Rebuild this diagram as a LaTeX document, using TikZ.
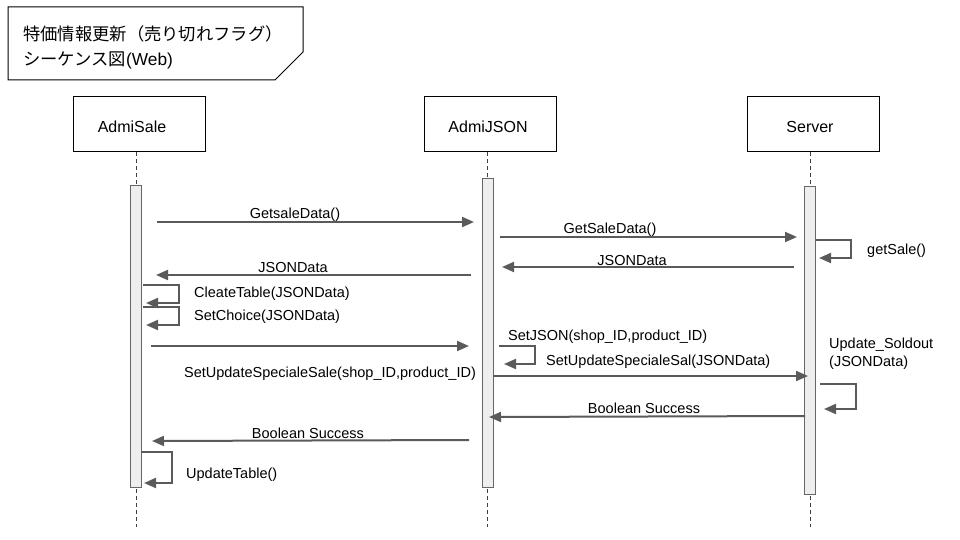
\documentclass[tikz,border=0pt]{standalone}
\usepackage{fontspec}
\setmainfont{Liberation Sans}
\newfontfamily\cjk{Noto Sans CJK JP}
\usetikzlibrary{arrows.meta,positioning}
\definecolor{msgcol}{RGB}{90,90,90}
\definecolor{barfill}{RGB}{238,238,238}

\begin{document}
\begin{tikzpicture}[
            x=1pt, y=-1pt,
            every node/.style={inner sep=0pt},
            head/.style={draw, line width=1pt, minimum width=132pt, minimum height=55pt},
            hlbl/.style={anchor=base, font=\fontsize{16}{19}\selectfont},
            life/.style={draw=black!75, line width=0.8pt, dash pattern=on 4pt off 3pt},
            bar/.style={draw=black!60, fill=barfill, line width=1pt, minimum width=11pt},
            msg/.style={draw=msgcol, line width=2pt, -{Triangle[length=12pt,width=10pt]}},
            lbl/.style={anchor=base, font=\fontsize{14.5}{17}\selectfont},
            lblw/.style={anchor=base west, font=\fontsize{14.5}{17}\selectfont}
        ]
            \useasboundingbox (0,0) rectangle (960,540);

            % タイトル
            \draw[line width=1pt] (8,7) -- (303,7) -- (303,52) -- (275,80) -- (8,80) -- cycle;
            \node[anchor=base west, font=\fontsize{17.3}{20}\selectfont] (title1) at (23,41) {\cjk 特価情報更新（売り切れフラグ）};
            \node[anchor=base west, font=\fontsize{17.3}{20}\selectfont] (title2) at (23,66) {{\cjk シーケンス図}(Web)};

            \node[head] (sale) at (139,124.5) {};
            \node[head] (json) at (490,124.5) {};
            \node[head] (server) at (813,124.5) {};
            \node[hlbl] (saleT) at (132,133) {AdmiSale};
            \node[hlbl] (jsonT) at (488,133) {AdmiJSON};
            \node[hlbl] (serverT) at (810,133) {Server};

            \coordinate (saleEnd) at (136,527);
            \coordinate (jsonEnd) at (487.5,527);
            \coordinate (serverEnd) at (810,527);
            \draw[life] (sale.south -| saleEnd) -- (saleEnd);
            \draw[life] (json.south -| jsonEnd) -- (jsonEnd);
            \draw[life] (server.south -| serverEnd) -- (serverEnd);

            \node[bar, minimum height=302pt] (actS) at (136,336) {};
            \node[bar, minimum height=308pt] (actJ) at (487.5,333) {};
            \node[bar, minimum height=308pt] (actV) at (810,340) {};

            % 特価情報の取得
            \coordinate (m1a) at (157,222); \coordinate (m1b) at (474,222);
            \draw[msg] (m1a) -- (m1b);
            \node[lbl] (l1) at (295,218) {GetsaleData()};

            \coordinate (m2a) at (500,237); \coordinate (m2b) at (797,237);
            \draw[msg] (m2a) -- (m2b);
            \node[lbl] (l2) at (610,233) {GetSaleData()};

            \coordinate (s1a) at (816,240); \coordinate (s1b) at (819,258);
            \draw[msg] (s1a) -- ++(35,0) |- (s1b);
            \node[lblw] (ls1) at (867,254) {getSale()};

            \coordinate (m3a) at (794,267); \coordinate (m3b) at (502,267);
            \draw[msg] (m3a) -- (m3b);
            \node[lbl] (l3) at (632,265) {JSONData};

            \coordinate (m4a) at (471,275); \coordinate (m4b) at (156,275);
            \draw[msg] (m4a) -- (m4b);
            \node[lbl] (l4) at (293,272) {JSONData};

            \coordinate (s2a) at (143,285); \coordinate (s2b) at (146,303);
            \draw[msg] (s2a) -- ++(36,0) |- (s2b);
            \node[lblw] (ls2) at (194,297) {CleateTable(JSONData)};

            \coordinate (s3a) at (143,307); \coordinate (s3b) at (146,325);
            \draw[msg] (s3a) -- ++(36,0) |- (s3b);
            \node[lblw] (ls3) at (194,320) {SetChoice(JSONData)};

            % 売り切れフラグの更新
            \coordinate (m5a) at (151,346); \coordinate (m5b) at (469,346);
            \draw[msg] (m5a) -- (m5b);
            \node[lbl] (l5) at (330,377) {SetUpdateSpecialeSale(shop\_ID,product\_ID)};

            \node[lblw] (ls4) at (508,340) {SetJSON(shop\_ID,product\_ID)};
            \coordinate (s4a) at (499,346); \coordinate (s4b) at (504,364);
            \draw[msg] (s4a) -- ++(36,0) |- (s4b);
            \node[lblw] (ls5) at (546,365) {SetUpdateSpecialeSal(JSONData)};

            \coordinate (m6a) at (493,376); \coordinate (m6b) at (808,376);
            \draw[msg] (m6a) -- (m6b);

            \node[lblw] (ls6) at (829,348) {Update\_Soldout};
            \node[lblw] (ls7) at (829,366) {(JSONData)};
            \coordinate (s5a) at (820,384); \coordinate (s5b) at (824,409);
            \draw[msg] (s5a) -- ++(36,0) |- (s5b);

            \coordinate (m7a) at (805,416); \coordinate (m7b) at (489,417);
            \draw[msg] (m7a) -- (m7b);
            \node[lbl] (l7) at (644,413) {Boolean Success};

            \coordinate (m8a) at (469,440); \coordinate (m8b) at (152,441);
            \draw[msg] (m8a) -- (m8b);
            \node[lbl] (l8) at (308,438) {Boolean Success};

            \coordinate (s6a) at (141,452); \coordinate (s6b) at (144,483);
            \draw[msg] (s6a) -- ++(31,0) |- (s6b);
            \node[lblw] (ls8) at (186,478) {UpdateTable()};

        \end{tikzpicture}
\end{document}
